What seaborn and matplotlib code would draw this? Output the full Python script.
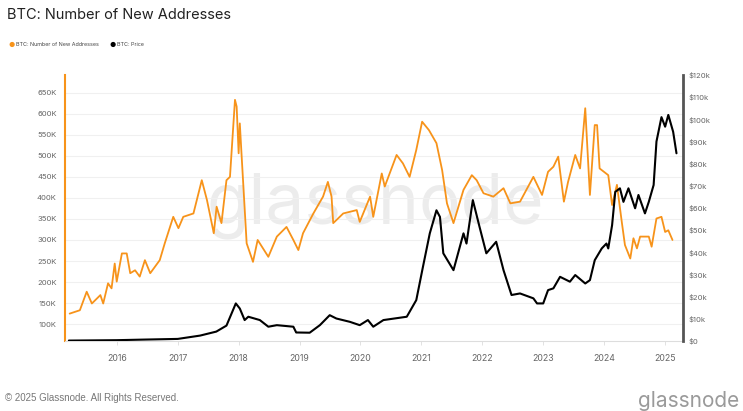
import pandas as pd
import seaborn as sns
import matplotlib.pyplot as plt
import matplotlib.dates as mdates
from matplotlib.ticker import FuncFormatter, MultipleLocator

# BTC: number of new addresses (thousands)
addr_dates = [
    "2015-03-25", "2015-05-25", "2015-07-05", "2015-08-05", "2015-09-25", "2015-10-12",
    "2015-11-10", "2015-12-01", "2015-12-20", "2016-01-01", "2016-02-01", "2016-03-01",
    "2016-03-22", "2016-04-20", "2016-05-18", "2016-06-18", "2016-07-20", "2016-09-15",
    "2016-10-15", "2016-12-05", "2017-01-05", "2017-02-03", "2017-04-05", "2017-05-25",
    "2017-06-25", "2017-08-05", "2017-08-22", "2017-09-20", "2017-10-20", "2017-11-10",
    "2017-12-10", "2017-12-20", "2018-01-01", "2018-01-08", "2018-01-18", "2018-02-18",
    "2018-03-28", "2018-04-25", "2018-06-28", "2018-08-18", "2018-10-15", "2018-11-25",
    "2018-12-25", "2019-01-22", "2019-03-25", "2019-05-22", "2019-06-20", "2019-07-12",
    "2019-07-22", "2019-09-20", "2019-12-10", "2019-12-28", "2020-02-28", "2020-03-18",
    "2020-05-08", "2020-05-26", "2020-08-05", "2020-09-12", "2020-10-22", "2020-12-01",
    "2021-01-05", "2021-02-15", "2021-04-01", "2021-05-05", "2021-06-03", "2021-07-12",
    "2021-09-10", "2021-10-30", "2021-11-28", "2022-01-08", "2022-03-08", "2022-05-08",
    "2022-06-18", "2022-08-15", "2022-11-03", "2022-12-25", "2023-01-30", "2023-03-03",
    "2023-04-01", "2023-05-05", "2023-05-30", "2023-07-12", "2023-08-10", "2023-09-10",
    "2023-10-08", "2023-11-06", "2023-11-20", "2023-12-05", "2024-01-26", "2024-02-18",
    "2024-03-18", "2024-04-16", "2024-05-05", "2024-06-06", "2024-06-25", "2024-07-16",
    "2024-08-04", "2024-09-25", "2024-10-12", "2024-11-10", "2024-12-10", "2025-01-01",
    "2025-01-20", "2025-02-14",
]
addr_values = [
    125, 133, 177, 149, 169, 149,
    197, 185, 244, 201, 268, 268,
    221, 228, 213, 252, 221, 252,
    292, 355, 328, 355, 363, 442,
    395, 316, 379, 340, 442, 450,
    633, 617, 506, 577, 506, 292,
    248, 300, 260, 308, 331, 300,
    276, 316, 363, 403, 438, 403,
    340, 363, 371, 343, 403, 355,
    458, 427, 502, 482, 450, 514,
    581, 561, 530, 466, 387, 340,
    419, 454, 442, 411, 403, 423,
    387, 391, 450, 407, 462, 474,
    498, 391, 438, 502, 470, 613,
    407, 573, 573, 470, 454, 383,
    431, 343, 288, 256, 304, 280,
    308, 308, 284, 351, 355, 319,
    323, 300,
]

# BTC: price (thousand USD)
price_dates = [
    "2015-03-20", "2016-01-01", "2016-06-15", "2017-01-01", "2017-05-15", "2017-08-20",
    "2017-10-20", "2017-12-15", "2018-01-08", "2018-02-06", "2018-02-28", "2018-05-08",
    "2018-06-28", "2018-08-18", "2018-11-25", "2018-12-12", "2019-03-03", "2019-05-03",
    "2019-07-01", "2019-08-10", "2019-10-30", "2019-12-28", "2020-02-15", "2020-03-18",
    "2020-05-18", "2020-10-05", "2020-12-01", "2021-01-10", "2021-02-20", "2021-04-01",
    "2021-04-22", "2021-05-12", "2021-07-12", "2021-09-10", "2021-09-28", "2021-11-05",
    "2021-12-15", "2022-01-25", "2022-03-25", "2022-05-08", "2022-06-25", "2022-08-15",
    "2022-11-03", "2022-11-25", "2023-01-01", "2023-01-30", "2023-03-03", "2023-04-12",
    "2023-06-10", "2023-07-12", "2023-09-10", "2023-10-08", "2023-11-06", "2023-12-18",
    "2024-01-15", "2024-01-26", "2024-02-18", "2024-03-08", "2024-04-05", "2024-04-26",
    "2024-05-26", "2024-07-05", "2024-07-25", "2024-09-02", "2024-09-25", "2024-10-24",
    "2024-11-10", "2024-12-10", "2025-01-01", "2025-01-20", "2025-02-18", "2025-03-10",
]
price_values = [
    0.25, 0.43, 0.7, 1.0, 2.5, 4.3,
    7.0, 17.0, 14.7, 9.5, 11.0, 9.5,
    6.5, 7.2, 6.5, 3.9, 3.8, 7.2,
    11.7, 10.2, 8.7, 7.2, 9.5, 6.5,
    9.5, 11.0, 18.5, 33.5, 48.6, 59.0,
    56.0, 39.6, 32.0, 48.6, 44.0, 63.6,
    51.6, 39.6, 44.8, 32.0, 20.8, 21.5,
    19.3, 17.0, 17.0, 23.0, 23.8, 29.0,
    26.8, 29.8, 26.0, 27.5, 36.5, 41.8,
    44.0, 41.8, 52.3, 67.3, 68.9, 62.8,
    68.9, 59.9, 65.9, 57.6, 62.8, 70.4,
    90.0, 101.0, 96.7, 102.0, 94.4, 84.7,
]

addr = pd.DataFrame({"date": pd.to_datetime(addr_dates), "value": addr_values})
price = pd.DataFrame({"date": pd.to_datetime(price_dates), "value": price_values})

ORANGE = "#F7931A"
sns.set_theme(style="white")
plt.rcParams["font.family"] = ["Inter", "DejaVu Sans"]

fig = plt.figure(figsize=(7.43, 4.11), dpi=100)
ax = fig.add_axes([0.0875, 0.170, 0.8315, 0.6475])
ax2 = ax.twinx()

# watermark behind the lines
ax.text(0.505, 0.50, "glassnode", transform=fig.transFigure, ha="center", va="center",
        fontsize=50, color="#ececec", zorder=0)

sns.lineplot(data=addr, x="date", y="value", ax=ax, color=ORANGE, linewidth=1.3, zorder=3)
sns.lineplot(data=price, x="date", y="value", ax=ax2, color="black", linewidth=1.5, zorder=3)

ax.set_xlim(pd.Timestamp("2015-02-25"), pd.Timestamp("2025-04-17"))
ax.set_ylim(59.6, 692)
ax2.set_ylim(0, 120)

ax.yaxis.set_major_locator(MultipleLocator(50))
ax.yaxis.set_major_formatter(FuncFormatter(lambda v, p: f"{v:.0f}K"))
ax2.yaxis.set_major_locator(MultipleLocator(10))
ax2.yaxis.set_major_formatter(FuncFormatter(lambda v, p: "$0" if v == 0 else f"${v:.0f}k"))
ax.xaxis.set_major_locator(mdates.YearLocator())
ax.xaxis.set_major_formatter(mdates.DateFormatter("%Y"))

ax.grid(axis="y", color="#f0f0f0", linewidth=0.8)
ax.grid(axis="x", visible=False)
ax2.grid(False)
ax.set_xlabel("")
ax.set_ylabel("")
ax2.set_ylabel("")

for a in (ax, ax2):
    for s in a.spines.values():
        s.set_visible(False)
ax.spines["left"].set_visible(True)
ax.spines["left"].set_color(ORANGE)
ax.spines["left"].set_linewidth(1.5)
ax.spines["bottom"].set_visible(True)
ax.spines["bottom"].set_color("#dddddd")
ax.spines["bottom"].set_linewidth(0.8)
ax2.spines["right"].set_visible(True)
ax2.spines["right"].set_color("#555555")
ax2.spines["right"].set_linewidth(2)

ax.tick_params(axis="y", length=0, labelsize=5.5, labelcolor="#666666", pad=6)
ax.tick_params(axis="x", length=3, width=0.6, color="#dddddd", labelsize=6.3,
               labelcolor="#666666", pad=6, bottom=True)
ax2.tick_params(axis="y", length=0, labelsize=5.5, labelcolor="#666666", pad=4)

# title and legend
fig.text(0.010, 0.963, "BTC: Number of New Addresses", fontsize=10.5, color="#222222",
         ha="left", va="center")
fig.text(0.016, 0.891, "●", fontsize=5, color=ORANGE, ha="center", va="center")
fig.text(0.022, 0.891, "BTC: Number of New Addresses", fontsize=3.9, color="#444444",
         ha="left", va="center")
fig.text(0.152, 0.891, "●", fontsize=5, color="black", ha="center", va="center")
fig.text(0.158, 0.891, "BTC: Price", fontsize=3.9, color="#444444", ha="left", va="center")

# footer
fig.text(0.007, 0.032, "© 2025 Glassnode. All Rights Reserved.", fontsize=7,
         color="#777777", ha="left", va="center", family=["Liberation Sans", "DejaVu Sans"])
fig.text(0.995, 0.025, "glassnode", fontsize=15, color="#9a9a9a", ha="right", va="center")

fig.savefig("out.png", dpi=100)
